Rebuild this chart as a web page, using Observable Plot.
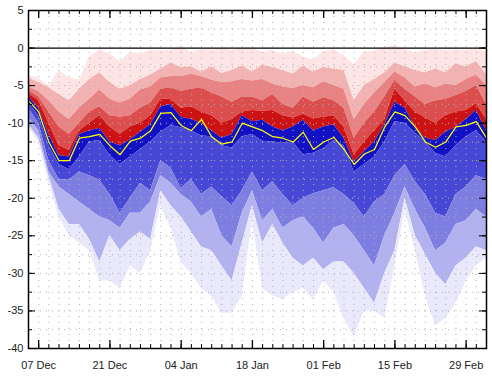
<!DOCTYPE html>
<html><head><meta charset="utf-8">
<script src="https://cdn.jsdelivr.net/npm/d3@7"></script>
<script src="https://cdn.jsdelivr.net/npm/@observablehq/plot@0.6"></script>
<style>
html,body{margin:0;padding:0;background:#fff;}
#chart{width:492px;height:376px;}
</style></head><body><div id="chart"></div>
<script>
// ---- data (one value every 2 days from 05 Dec) ----
const startDate = "2023-12-05";
const endDate = "2024-03-04";
const stepDays = 2;

const pMax = [-3.7,-4,-5,-3,-4, -4.3,-1.2,-0.2,-0.8,-1.8, -0.6,-0.8,-0.3,-0.4,-0.3, 0.2,-0.6,-0.2,-0.3,-0.1, -0.3,0,0,-0.6,-0.3, -0.8,-0.4,-1.2,-1.6,-0.5, -0.2,-1,-2.2,-0.5,-0.4, 0,0.4,-0.2,-0.7,-0.3, -0.2,-0.4,-0.3,-0.3,-0.2, -0.4];
const p90 = [-4,-4.6,-5.3,-6.2,-7, -5.5,-4.2,-3.3,-4.6,-5.5, -5,-4.2,-3.6,-2.8,-2, -2.6,-2.5,-3.2,-2.5,-3.4, -3,-2.4,-3.2,-2.3,-2.6, -3,-3.5,-2.4,-3.2,-2.6, -2.8,-3,-7,-5,-4.2, -3.3,-2,-2.5,-3,-3.3, -2.8,-3.3,-2.1,-2.5,-1.8, -3.5];
const p80 = [-5.2,-5.8,-7,-8.5,-9.5, -8,-6.8,-5.6,-6.8,-7.3, -6.8,-5.6,-5.2,-4,-3.8, -3.8,-3.5,-3.8,-4.3,-4.6, -4.5,-4.2,-4.4,-4.2,-4.8, -5.2,-5.4,-5,-5.3,-4.5, -5,-5.5,-9.5,-7.5,-6, -4.6,-3.2,-4,-5.2,-4.8, -5.3,-4.8,-5,-4.2,-3.6, -5];
const p70 = [-5.7,-6.5,-8.5,-10.5,-11.5, -10,-8.5,-7.8,-9,-9.2, -9,-8,-7.3,-5.5,-5.3, -5.8,-5.5,-5.3,-6,-6.5, -7.2,-6.5,-6.5,-7,-6.2, -7.5,-8,-6.5,-7.2,-6.6, -7,-8,-12,-10,-8.5, -6.5,-4.3,-5.5,-6.5,-7.5, -7,-6.8,-6.3,-5.8,-5, -7.5];
const p60 = [-6.1,-7,-10,-13,-13.6, -11,-10,-9,-10.5,-11.5, -10.5,-10,-9,-6.8,-6.8, -8,-7.8,-8.5,-9,-10, -9.5,-8.5,-8.3,-8.4,-8.3, -9,-9.3,-8.8,-9.4,-9.2, -9,-10.5,-14.2,-12.5,-11, -9.5,-5.5,-7,-8.5,-9.3, -10,-9,-8.5,-8.3,-7.4, -9.5];
const p50 = [-6.5,-8,-11.5,-14.3,-14.5, -11.5,-11,-10.7,-12.5,-13, -12.2,-11.2,-10.2,-7.8,-7.5, -9.2,-9.5,-10,-11,-12, -11.5,-9,-9.8,-9.6,-10.5, -11,-10.5,-9.6,-11,-10.5, -10.2,-12,-15.2,-13.8,-12.5, -10.2,-7.2,-8,-10.5,-12, -12.3,-11.2,-10.5,-9.5,-8.3, -11];
const p40 = [-7.3,-9,-13,-15.5,-16.2, -14.5,-12.5,-12.3,-14.3,-15.5, -14.5,-13.5,-12.5,-11.2,-10.3, -10.6,-11,-11.7,-11.8,-13, -13.3,-11.8,-11.5,-12.4,-12.5, -12.7,-12.5,-14.2,-14,-13.4, -12.3,-13,-16.5,-15.5,-14.5, -12.5,-9.8,-10,-11.3,-12.5, -14,-14.5,-13,-11.8,-11, -12.5];
const p30 = [-8,-10,-15,-17.5,-17.6, -16.5,-17,-17.6,-19.5,-22, -20,-18,-19,-15,-16, -18.7,-17.5,-19.5,-18.5,-19.8, -21,-19,-16.5,-19,-17.8, -19.5,-21,-20,-19.4,-19, -18.6,-19.5,-20.7,-22.5,-20.5, -19.5,-17,-15.5,-17.8,-19.5, -22,-22.5,-19.5,-18.5,-17, -17.5];
const p20 = [-9.3,-11,-16.5,-18.5,-19.5, -20.5,-21.5,-22.5,-23,-24, -22,-22,-20.5,-17,-18, -19.5,-20.5,-22.5,-21.5,-25, -26.5,-22,-19,-23,-21.5, -24,-23,-22.5,-24,-26, -24,-23.5,-25,-27,-29, -25,-22,-18.5,-21.5,-24, -27,-26,-23.5,-23,-21.5, -22.5];
const p10 = [-10.2,-12,-17,-21.5,-23.5, -23.5,-25.5,-28.5,-25,-27, -25.5,-24.5,-25.5,-19,-21, -22.5,-24.5,-26.5,-27,-29, -31,-26,-21,-26,-23.5, -26,-28,-29,-28,-29.5, -28.5,-28.5,-30,-32,-34, -30,-27,-20,-25,-27.5, -30,-31.5,-29,-28,-26.5, -27];
const pMin = [-10.5,-12.5,-18,-22.5,-25, -26,-27,-31,-31,-32, -29,-30,-27,-21,-24, -28.5,-30,-32,-33,-35.3, -35.3,-33,-23,-32,-33, -33.5,-32.5,-32,-33.5,-31, -32.5,-36,-38.5,-35,-35, -36,-29,-21.5,-27,-33, -37,-36,-34,-31,-29, -28];
const yellowLine = [-7,-8.5,-12.5,-15,-15, -12,-11.8,-11.5,-13,-14.2, -12.4,-12,-11,-8.7,-8.6, -10.3,-11,-9.5,-11.8,-12.8, -12.5,-10,-10.5,-11,-11.8, -12,-12.5,-11.2,-13.5,-12.5, -11.9,-13.5,-15.5,-14.1,-13.5, -10.5,-8.5,-9,-10.5,-12.5, -13.2,-12.5,-10.5,-10.3,-9.8, -12];

const xTickLabels = ["2023-12-07","2023-12-21","2024-01-04","2024-01-18","2024-02-01","2024-02-15","2024-02-29"];
const yTickValues = [5,0,-5,-10,-15,-20,-25,-30,-35,-40];
const bandColors = ["#fde5e5","#f4b3b3","#e98282","#dc4e4e","#cc1212","#1212c4","#4848d6","#7e7ee2","#b2b2f1","#e9e9fb"];

// ---- build ----
const quantiles = [pMax,p90,p80,p70,p60,p50,p40,p30,p20,p10,pMin];
const start = new Date(startDate + "T00:00:00Z");
const end = new Date(endDate + "T00:00:00Z");
const rows = pMax.map((_, i) => ({
  date: d3.utcDay.offset(start, i * stepDays),
  q: quantiles.map(a => a[i]),
  y: yellowLine[i]
}));

const W = 492, H = 376, mL = 28, mR = 6, mT = 10, mB = 28;
const yDom = [-40, 5];
const unitPerPx = (yDom[1] - yDom[0]) / (H - mT - mB);
const msPerPx = (end - start) / (W - mL - mR);

const majorDates = xTickLabels.map(s => new Date(s + "T00:00:00Z"));
const minorDates = d3.utcDay.range(start, d3.utcDay.offset(end, 1), 2);
const gridY = d3.range(-37.5, 5, 2.5).filter(v => v !== 0);
const minorY = d3.range(-40, 5.01, 2.5);

const bandMarks = bandColors.map((c, k) =>
  Plot.areaY(rows, {x: "date", y1: d => d.q[k + 1], y2: d => d.q[k], fill: c, curve: "linear"}));

const tickLen = (px) => px * unitPerPx;
const dayLen = (px) => px * msPerPx;

const chart = Plot.plot({
  width: W, height: H,
  marginLeft: mL, marginRight: mR, marginTop: mT, marginBottom: mB,
  x: {type: "utc", domain: [start, end], label: null},
  y: {domain: yDom, label: null},
  style: {fontFamily: "'Liberation Sans', Arial, sans-serif", fontSize: "11px", color: "#222", background: "#fff"},
  marks: [
    ...bandMarks,
    Plot.ruleY(gridY, {stroke: "#b0b0b0", strokeDasharray: "1,5", strokeWidth: 1}),
    Plot.ruleX(minorDates, {stroke: "#b0b0b0", strokeDasharray: "1,5", strokeWidth: 1}),
    Plot.ruleY([0], {stroke: "#000", strokeWidth: 1.2}),
    Plot.line(rows, {x: "date", y: "y", stroke: "#ffff00", strokeWidth: 1.2}),
    // bottom / top ticks
    Plot.ruleX(minorDates, {y1: yDom[0], y2: yDom[0] + tickLen(4), stroke: "#000"}),
    Plot.ruleX(majorDates, {y1: yDom[0], y2: yDom[0] + tickLen(8), stroke: "#000", strokeWidth: 1.3}),
    Plot.ruleX(minorDates, {y1: yDom[1], y2: yDom[1] - tickLen(4), stroke: "#000"}),
    Plot.ruleX(majorDates, {y1: yDom[1], y2: yDom[1] - tickLen(8), stroke: "#000", strokeWidth: 1.3}),
    // left / right ticks
    Plot.ruleY(minorY, {x1: start, x2: new Date(+start + dayLen(4)), stroke: "#000"}),
    Plot.ruleY(yTickValues, {x1: start, x2: new Date(+start + dayLen(7)), stroke: "#000"}),
    Plot.ruleY(minorY, {x1: end, x2: new Date(+end - dayLen(4)), stroke: "#000"}),
    Plot.ruleY(yTickValues, {x1: end, x2: new Date(+end - dayLen(7)), stroke: "#000"}),
    Plot.frame({stroke: "#000", strokeWidth: 1.5}),
    Plot.axisX(majorDates, {tickSize: 0, tickPadding: 13, tickFormat: d3.utcFormat("%d %b"), fill: "#222", label: null}),
    Plot.axisY(yTickValues, {tickSize: 0, tickPadding: 5, tickFormat: d => String(d), fill: "#222", label: null})
  ]
});
document.getElementById("chart").appendChild(chart);
</script>
</body></html>
